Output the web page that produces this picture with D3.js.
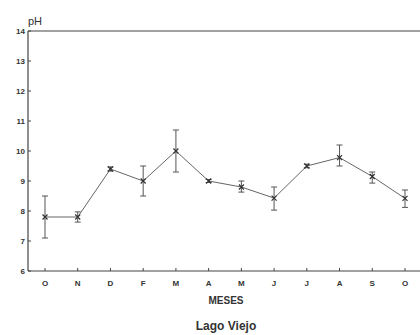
<!DOCTYPE html>
<html>
<head>
<meta charset="utf-8">
<script src="https://cdn.jsdelivr.net/npm/d3@7"></script>
<style>
	body { margin: 0; background: white; }
	text { font-family: "Liberation Sans", Arial, sans-serif; fill: #333; }
</style>
</head>
<body>
<div id="chart"></div>
<script>
// Monthly pH, Lago Viejo.
let months = ["O", "N", "D", "F", "M", "A", "M", "J", "J", "A", "S", "O"];
let phMean = [7.8, 7.8, 9.4, 9.0, 10.0, 9.0, 8.8, 8.43, 9.5, 9.78, 9.15, 8.42];
let phLow  = [7.1, 7.63, 9.33, 8.5, 9.3, 8.95, 8.63, 8.03, 9.44, 9.5, 8.93, 8.12];
let phHigh = [8.5, 7.97, 9.47, 9.5, 10.7, 9.05, 9.0, 8.8, 9.56, 10.2, 9.3, 8.7];
let yTicks = [6, 7, 8, 9, 10, 11, 12, 13, 14];

let width = 420, height = 335;
let svg = d3.select("#chart").append("svg")
  .attr("width", width)
  .attr("height", height);

let idx = months.map((m, i) => i);

let x = d3.scalePoint()
  .domain(idx)
  .range([45, 405]);

let y = d3.scaleLinear()
  .domain([6, 14])
  .range([271, 31]);

let left = 28, right = 420;
let ink = "#444";

// Axes frame: left, bottom and top line.
svg.append("line")
  .attr("x1", left).attr("x2", left)
  .attr("y1", y(14)).attr("y2", y(6))
  .attr("stroke", ink).attr("stroke-width", 1.2);
svg.append("line")
  .attr("x1", left).attr("x2", right)
  .attr("y1", y(6)).attr("y2", y(6))
  .attr("stroke", ink).attr("stroke-width", 1.2);
svg.append("line")
  .attr("x1", left).attr("x2", right)
  .attr("y1", y(14)).attr("y2", y(14))
  .attr("stroke", ink).attr("stroke-width", 1);

// y ticks
let yg = svg.append("g");
yg.selectAll("line")
  .data(yTicks)
  .enter().append("line")
	.attr("x1", left).attr("x2", left + 3)
	.attr("y1", d => y(d)).attr("y2", d => y(d))
	.attr("stroke", ink);
yg.selectAll("text")
  .data(yTicks)
  .enter().append("text")
	.attr("x", left - 3)
	.attr("y", d => y(d))
	.attr("dy", "0.35em")
	.attr("text-anchor", "end")
	.attr("font-size", 8)
	.attr("font-weight", "bold")
	.text(d => d);

svg.append("text")
  .attr("x", left)
  .attr("y", 25)
  .attr("font-size", 11)
  .text("pH");

// x ticks
let xg = svg.append("g");
xg.selectAll("line")
  .data(idx)
  .enter().append("line")
	.attr("x1", d => x(d)).attr("x2", d => x(d))
	.attr("y1", y(6)).attr("y2", y(6) - 3)
	.attr("stroke", ink);
xg.selectAll("text")
  .data(idx)
  .enter().append("text")
	.attr("x", d => x(d))
	.attr("y", 283)
	.attr("dy", "0.35em")
	.attr("text-anchor", "middle")
	.attr("font-size", 8)
	.attr("font-weight", "bold")
	.text(d => months[d]);

svg.append("text")
  .attr("x", 226).attr("y", 304)
  .attr("text-anchor", "middle")
  .attr("font-size", 10)
  .attr("font-weight", "bold")
  .text("MESES");

svg.append("text")
  .attr("x", 226).attr("y", 330)
  .attr("text-anchor", "middle")
  .attr("font-size", 12)
  .attr("font-weight", "bold")
  .text("Lago Viejo");

// Error bars
let eb = svg.append("g").attr("stroke", "#555").attr("stroke-width", 1);
idx.forEach(i => {
	let cx = x(i);
	eb.append("line")
	  .attr("x1", cx).attr("x2", cx)
	  .attr("y1", y(phLow[i])).attr("y2", y(phHigh[i]));
	[phLow[i], phHigh[i]].forEach(v => {
		eb.append("line")
		  .attr("x1", cx - 3).attr("x2", cx + 3)
		  .attr("y1", y(v)).attr("y2", y(v));
	});
});

// Mean line
svg.append("path")
  .datum(idx)
  .attr("fill", "none")
  .attr("stroke", "#666")
  .attr("stroke-width", 1)
  .attr("d", d3.line().x(d => x(d)).y(d => y(phMean[d])));

// Markers (small x)
let mk = svg.append("g").attr("stroke", "#333").attr("stroke-width", 1.2);
idx.forEach(i => {
	let cx = x(i), cy = y(phMean[i]), s = 2.5;
	mk.append("path")
	  .attr("d", `M${cx - s},${cy - s}L${cx + s},${cy + s}M${cx - s},${cy + s}L${cx + s},${cy - s}`);
});
</script>
</body>
</html>
